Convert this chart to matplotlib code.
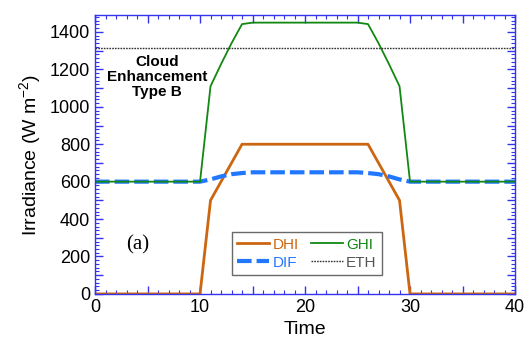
import numpy as np
import matplotlib.pyplot as plt
from matplotlib.ticker import MultipleLocator, FuncFormatter

plt.rcParams['font.family'] = ['Liberation Sans', 'DejaVu Sans']
plt.rcParams['mathtext.fontset'] = 'custom'
plt.rcParams['mathtext.rm'] = 'Liberation Sans'

time = [0, 10, 11, 12, 13, 14, 15, 25, 26, 27, 28, 29, 30, 40]
dhi = [0, 0, 500, 600, 700, 800, 800, 800, 800, 700, 600, 500, 0, 0]
dif = [600, 600, 612, 628, 640, 646, 650, 650, 646, 640, 628, 612, 600, 600]
ghi = [600, 600, 1110, 1228, 1340, 1442, 1450, 1450, 1442, 1340, 1228, 1110, 600, 600]
eth = 1315

fig = plt.figure(figsize=(5.25, 3.52), dpi=100)
ax = fig.add_axes([0.181, 0.165, 0.800, 0.792])

ax.plot(time, dhi, color='#cc6611', lw=2, label='DHI')
ax.plot(time, dif, color='#2277ff', lw=3, ls=(0, (3.5, 1.2)), label='DIF')
ax.plot(time, ghi, color='#118811', lw=1.3, label='GHI')
ax.axhline(eth, color='#333333', lw=1, ls=(0, (1.2, 0.8)), label='ETH')

ax.set_xlim(0, 40)
ax.set_ylim(0, 1490)

ax.xaxis.set_major_locator(MultipleLocator(5))
ax.xaxis.set_minor_locator(MultipleLocator(1))
ax.yaxis.set_major_locator(MultipleLocator(100))
ax.yaxis.set_minor_locator(MultipleLocator(20))
ax.xaxis.set_major_formatter(FuncFormatter(lambda v, p: '%d' % v if v % 10 == 0 else ''))
ax.yaxis.set_major_formatter(FuncFormatter(lambda v, p: '%d' % v if v % 200 == 0 else ''))
ax.tick_params(which='both', direction='in', top=True, right=True, colors='#3333ee',
               labelcolor='black', labelsize=13)
ax.tick_params(which='major', length=6, width=1)
ax.tick_params(which='minor', length=3, width=0.8)
for s in ax.spines.values():
    s.set_color('#3333ee')
    s.set_linewidth(1)

ax.set_xlabel('Time', fontsize=14)
ax.set_ylabel('Irradiance (W m$^{-2}$)', fontsize=14)

ax.text(5.9, 1158, 'Cloud\nEnhancement\nType B', ha='center', va='center',
        fontsize=11, fontweight='bold', linespacing=1.08)
ax.text(4.1, 262, '(a)', ha='center', va='center', fontsize=15, family='Liberation Serif')

leg = ax.legend(ncol=2, loc='lower left', bbox_to_anchor=(0.326, 0.068), borderaxespad=0,
                fontsize=11, frameon=True, fancybox=False, edgecolor='#444444',
                handlelength=2.1, columnspacing=0.8, handletextpad=0.2,
                labelspacing=0.25, borderpad=0.35)
leg.get_frame().set_linewidth(1)
for t, h in zip(leg.get_texts(), leg.legend_handles):
    t.set_color(h.get_color())
leg.get_texts()[3].set_color('#555555')

fig.savefig('out.png', dpi=100)
